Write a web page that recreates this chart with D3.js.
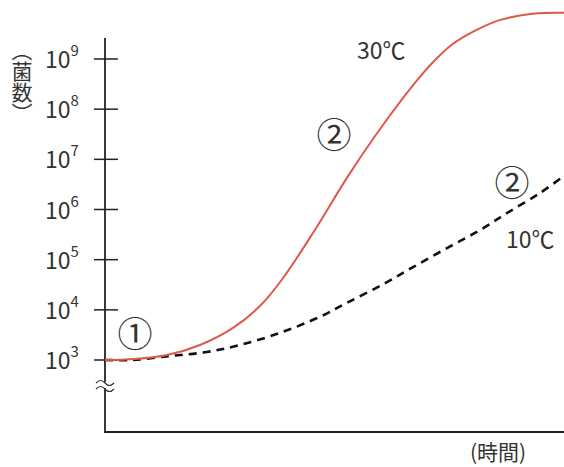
<!DOCTYPE html>
<html>
<head>
<meta charset="utf-8">
<script src="https://cdn.jsdelivr.net/npm/d3@7"></script>
<style>
  body { margin: 0; background: #fff; }
  svg { display: block; }
  text { font-family: "Noto Sans CJK JP", "Noto Sans", sans-serif; fill: #333; }
</style>
</head>
<body>
<script>
// time (arbitrary units), log10 of bacteria count
var time30 = [0, 0.65, 1.35, 2.07, 2.79, 3.38, 3.86, 4.53, 5.27, 5.88, 6.49, 6.82, 7.15, 7.52, 7.89, 8.28, 8.61, 9.32, 10];
var log30  = [3.0, 3.02, 3.10, 3.30, 3.64, 4.08, 4.61, 5.53, 6.63, 7.46, 8.22, 8.60, 8.94, 9.26, 9.48, 9.66, 9.78, 9.90, 9.92];
var time10 = [0, 0.61, 1.42, 2.22, 2.94, 3.81, 4.68, 5.27, 6.06, 6.71, 7.45, 8.17, 8.76, 9.48, 10];
var log10v = [3.0, 3.0, 3.08, 3.16, 3.30, 3.54, 3.86, 4.14, 4.51, 4.85, 5.23, 5.59, 5.93, 6.33, 6.67];
var tickExps = [3, 4, 5, 6, 7, 8, 9];

var w = 564, h = 467;
var svg = d3.select('body').append('svg')
    .attr('width', w)
    .attr('height', h);

var x = d3.scaleLinear().domain([0, 10]).range([105, 564]);
var y = d3.scaleLog().domain([1e3, 1e9]).range([360, 59]);

// axes
svg.append('line')
    .attr('x1', 105).attr('x2', 105)
    .attr('y1', 38).attr('y2', 432)
    .style('stroke', '#222').style('stroke-width', 1.8);
svg.append('line')
    .attr('x1', 104).attr('x2', 564)
    .attr('y1', 432).attr('y2', 432)
    .style('stroke', '#222').style('stroke-width', 1.8);

// ticks
var ticks = svg.append('g').selectAll('g')
    .data(tickExps)
    .enter().append('g')
    .attr('transform', function(d) { return 'translate(0,' + y(Math.pow(10, d)) + ')'; });
ticks.append('line')
    .attr('x1', 94).attr('x2', 118)
    .style('stroke', '#222').style('stroke-width', 1.5);
var lab = ticks.append('text')
    .attr('x', 45)
    .attr('y', 9)
    .style('font-size', '23px');
lab.append('tspan').text('10');
lab.append('tspan')
    .attr('dy', -12)
    .style('font-size', '15px')
    .text(function(d) { return d; });

// axis break mark
var brk = svg.append('g').attr('transform', 'translate(105,385)');
brk.append('rect').attr('x', -9).attr('y', -3).attr('width', 18).attr('height', 6).style('fill', '#fff');
[-3, 3].forEach(function(dy) {
  brk.append('path')
    .attr('d', 'M-9,' + (dy + 1) + ' q4.5,-5 9,0 t9,0')
    .style('fill', 'none').style('stroke', '#333').style('stroke-width', 1.2);
});

// curves
var line = d3.line()
    .x(function(d) { return x(d[0]); })
    .y(function(d) { return y(Math.pow(10, d[1])); })
    .curve(d3.curveCatmullRom.alpha(0.5));

svg.append('path')
    .datum(time10.map(function(t, i) { return [t, log10v[i]]; }))
    .attr('d', line)
    .style('fill', 'none')
    .style('stroke', '#111')
    .style('stroke-width', 2.6)
    .style('stroke-dasharray', '8,6');

svg.append('path')
    .datum(time30.map(function(t, i) { return [t, log30[i]]; }))
    .attr('d', line)
    .style('fill', 'none')
    .style('stroke', '#dc5a4a')
    .style('stroke-width', 2);

// labels
svg.append('text').attr('x', 357).attr('y', 59).style('font-size', '23px').text('30℃');
svg.append('text').attr('x', 506).attr('y', 248).style('font-size', '23px').text('10℃');
svg.append('text').attr('x', 135).attr('y', 347).attr('text-anchor', 'middle').style('font-size', '35px').text('①');
svg.append('text').attr('x', 334).attr('y', 148).attr('text-anchor', 'middle').style('font-size', '35px').text('②');
svg.append('text').attr('x', 512).attr('y', 196).attr('text-anchor', 'middle').style('font-size', '35px').text('②');

svg.append('text')
    .attr('x', 22).attr('y', 40)
    .style('writing-mode', 'vertical-rl')
    .style('font-size', '21px')
    .text('（菌数）');
svg.append('text')
    .attr('x', 470).attr('y', 460)
    .style('font-size', '21px')
    .text('(時間)');
</script>
</body>
</html>
